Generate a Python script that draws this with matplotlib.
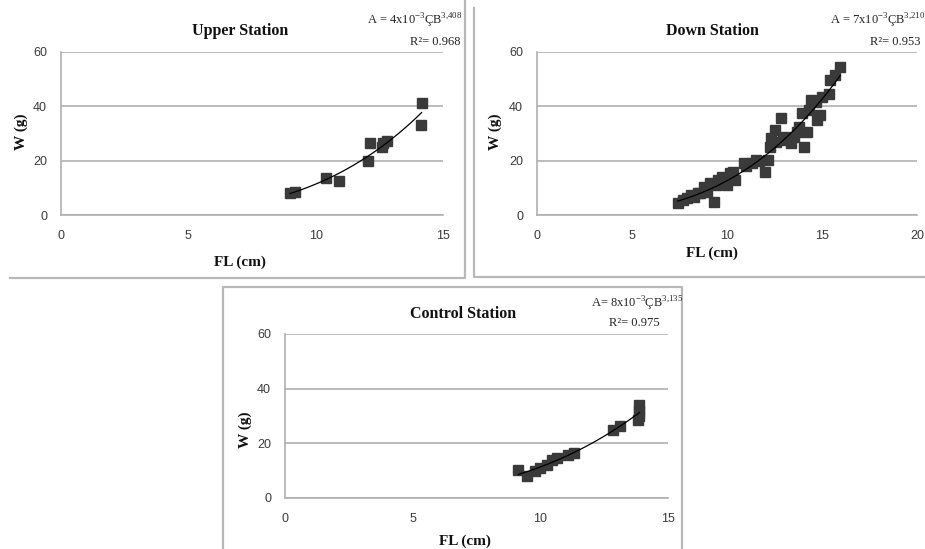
import numpy as np
import matplotlib
matplotlib.use("Agg")
import matplotlib.pyplot as plt
from matplotlib.lines import Line2D

plt.rcParams['font.family'] = ['Liberation Serif', 'DejaVu Serif']
plt.rcParams['mathtext.fontset'] = 'custom'
plt.rcParams['mathtext.rm'] = 'Liberation Serif'

W_PX, H_PX = 925, 549

# --- data ---
upper_fl = [8.99, 9.19, 10.4, 10.9, 12.07, 12.15, 12.6, 12.65, 12.8, 14.12, 14.16]
upper_w = [8.2, 8.6, 13.5, 12.5, 20.0, 26.4, 25.1, 26.6, 27.4, 33.1, 41.1]

down_fl = [7.4, 7.67, 7.9, 8.1, 8.27, 8.45, 8.6, 8.8, 8.96, 9.1, 9.3, 9.4, 9.55,
           9.74, 10.0, 10.17, 10.3, 10.43, 10.87, 11.0, 11.3, 11.55, 11.7, 11.98,
           12.16, 12.25, 12.33, 12.5, 12.6, 12.85, 12.94, 13.1, 13.37, 13.54,
           13.7, 13.8, 13.97, 14.06, 14.23, 14.3, 14.4, 14.66, 14.75, 14.9,
           15.0, 15.35, 15.44, 15.7, 15.96]
down_w = [4.3, 5.5, 6.2, 7.3, 6.7, 8.0, 8.0, 10.4, 8.6, 11.7, 4.9, 11.0, 12.9,
          14.1, 11.0, 15.3, 16.0, 12.9, 19.0, 18.0, 19.0, 20.2, 20.0, 15.9,
          20.2, 25.1, 28.2, 31.2, 27.0, 35.6, 28.8, 27.5, 26.4, 28.8,
          30.5, 32.5, 37.4, 25.1, 30.6, 38.6, 42.3, 41.7, 34.9, 36.8,
          43.5, 44.7, 49.6, 51.5, 54.5]

control_fl = [9.14, 9.47, 9.8, 9.99, 10.25, 10.45, 10.64, 11.1, 11.3, 12.86,
              13.12, 13.84, 13.88, 13.88, 13.88]
control_w = [10.1, 8.2, 9.7, 11.0, 12.2, 14.0, 14.6, 15.8, 16.5, 25.0,
             26.2, 28.7, 34.1, 31.7, 29.9]

titles = ["Upper Station", "Down Station", "Control Station"]
equations = [r"A = 4x10$^{\mathrm{-3}}$ÇB$^{\mathrm{3{,}408}}$",
             r"A = 7x10$^{\mathrm{-3}}$ÇB$^{\mathrm{3{,}210}}$",
             r"A= 8x10$^{\mathrm{-3}}$ÇB$^{\mathrm{3{,}135}}$"]
r2_labels = ["R²= 0.968", "R²= 0.953", "R²= 0.975"]
x_max = [15, 20, 15]


def fx(px):
    return px / W_PX


def fy(py):
    return 1 - py / H_PX


def box_line(fig, xs, ys):
    fig.add_artist(Line2D([fx(x) for x in xs], [fy(y) for y in ys],
                          color='#b8b8b8', lw=1.6, transform=fig.transFigure))


fig = plt.figure(figsize=(9.25, 5.49), dpi=100)

# panel frames
box_line(fig, [10, 465, 465], [278, 278, 0])
box_line(fig, [474, 474, 925], [8, 277, 277])
box_line(fig, [223, 223, 682, 682], [549, 287, 287, 549])

# axes rectangles in pixels: left, right, top(y=60), bottom(y=0)
rects = [(61, 443, 52, 215), (537, 917, 52, 215), (285, 668, 334, 498)]
datasets = [(upper_fl, upper_w), (down_fl, down_w), (control_fl, control_w)]

# text positions (pixels)
title_pos = [(240, 31), (712, 31), (463, 314)]
eq_pos = [(462, 21), (925, 21), (683, 304)]
r2_pos = [(435, 42), (895, 42), (634, 323)]
ylab_pos = [(21, 132), (495, 132), (245, 430)]
xlab_pos = [(240, 262), (712, 253), (465, 541)]

for i, (l, r, t, b) in enumerate(rects):
    ax = fig.add_axes([fx(l), fy(b), (r - l) / W_PX, (b - t) / H_PX])
    fl, w = datasets[i]
    fl = np.array(fl)
    w = np.array(w)
    ax.plot(fl, w, 's', ms=6.5, color='#3a3a3a', zorder=3)

    # Excel-style power trend line: fit in log space
    k, c = np.polyfit(np.log(fl), np.log(w), 1)
    xs = np.linspace(fl.min(), fl.max(), 100)
    ax.plot(xs, np.exp(c) * xs ** k, color='black', lw=0.9, zorder=4)

    ax.set_xlim(0, x_max[i])
    ax.set_ylim(0, 60)
    ax.set_xticks(np.arange(0, x_max[i] + 1, 5))
    ax.set_yticks([0, 20, 40, 60])
    ax.yaxis.grid(True, color='#b0b0b0', lw=1.2)
    ax.set_axisbelow(True)
    for s in ['top', 'right']:
        ax.spines[s].set_visible(False)
    for s in ['left', 'bottom']:
        ax.spines[s].set_color('#b0b0b0')
        ax.spines[s].set_linewidth(1.2)
    ax.tick_params(length=0, labelsize=9, colors='#3a3a3a')
    ax.tick_params(axis='x', pad=11)
    ax.tick_params(axis='y', pad=10)
    for lab in ax.get_xticklabels() + ax.get_yticklabels():
        lab.set_fontfamily('Liberation Sans')

    fig.text(fx(title_pos[i][0]), fy(title_pos[i][1]), titles[i], ha='center',
             va='center', fontsize=11.5, fontweight='bold', color='#111111')
    fig.text(fx(eq_pos[i][0]), fy(eq_pos[i][1]), equations[i], ha='right',
             va='center', fontsize=9, color='#222222')
    fig.text(fx(r2_pos[i][0]), fy(r2_pos[i][1]), r2_labels[i], ha='center',
             va='center', fontsize=9, color='#222222')
    fig.text(fx(ylab_pos[i][0]), fy(ylab_pos[i][1]), "W (g)", rotation=90,
             ha='center', va='center', fontsize=11, fontweight='bold', color='#111111')
    fig.text(fx(xlab_pos[i][0]), fy(xlab_pos[i][1]), "FL (cm)", ha='center',
             va='center', fontsize=11, fontweight='bold', color='#111111')

fig.savefig("out.png", dpi=100)
